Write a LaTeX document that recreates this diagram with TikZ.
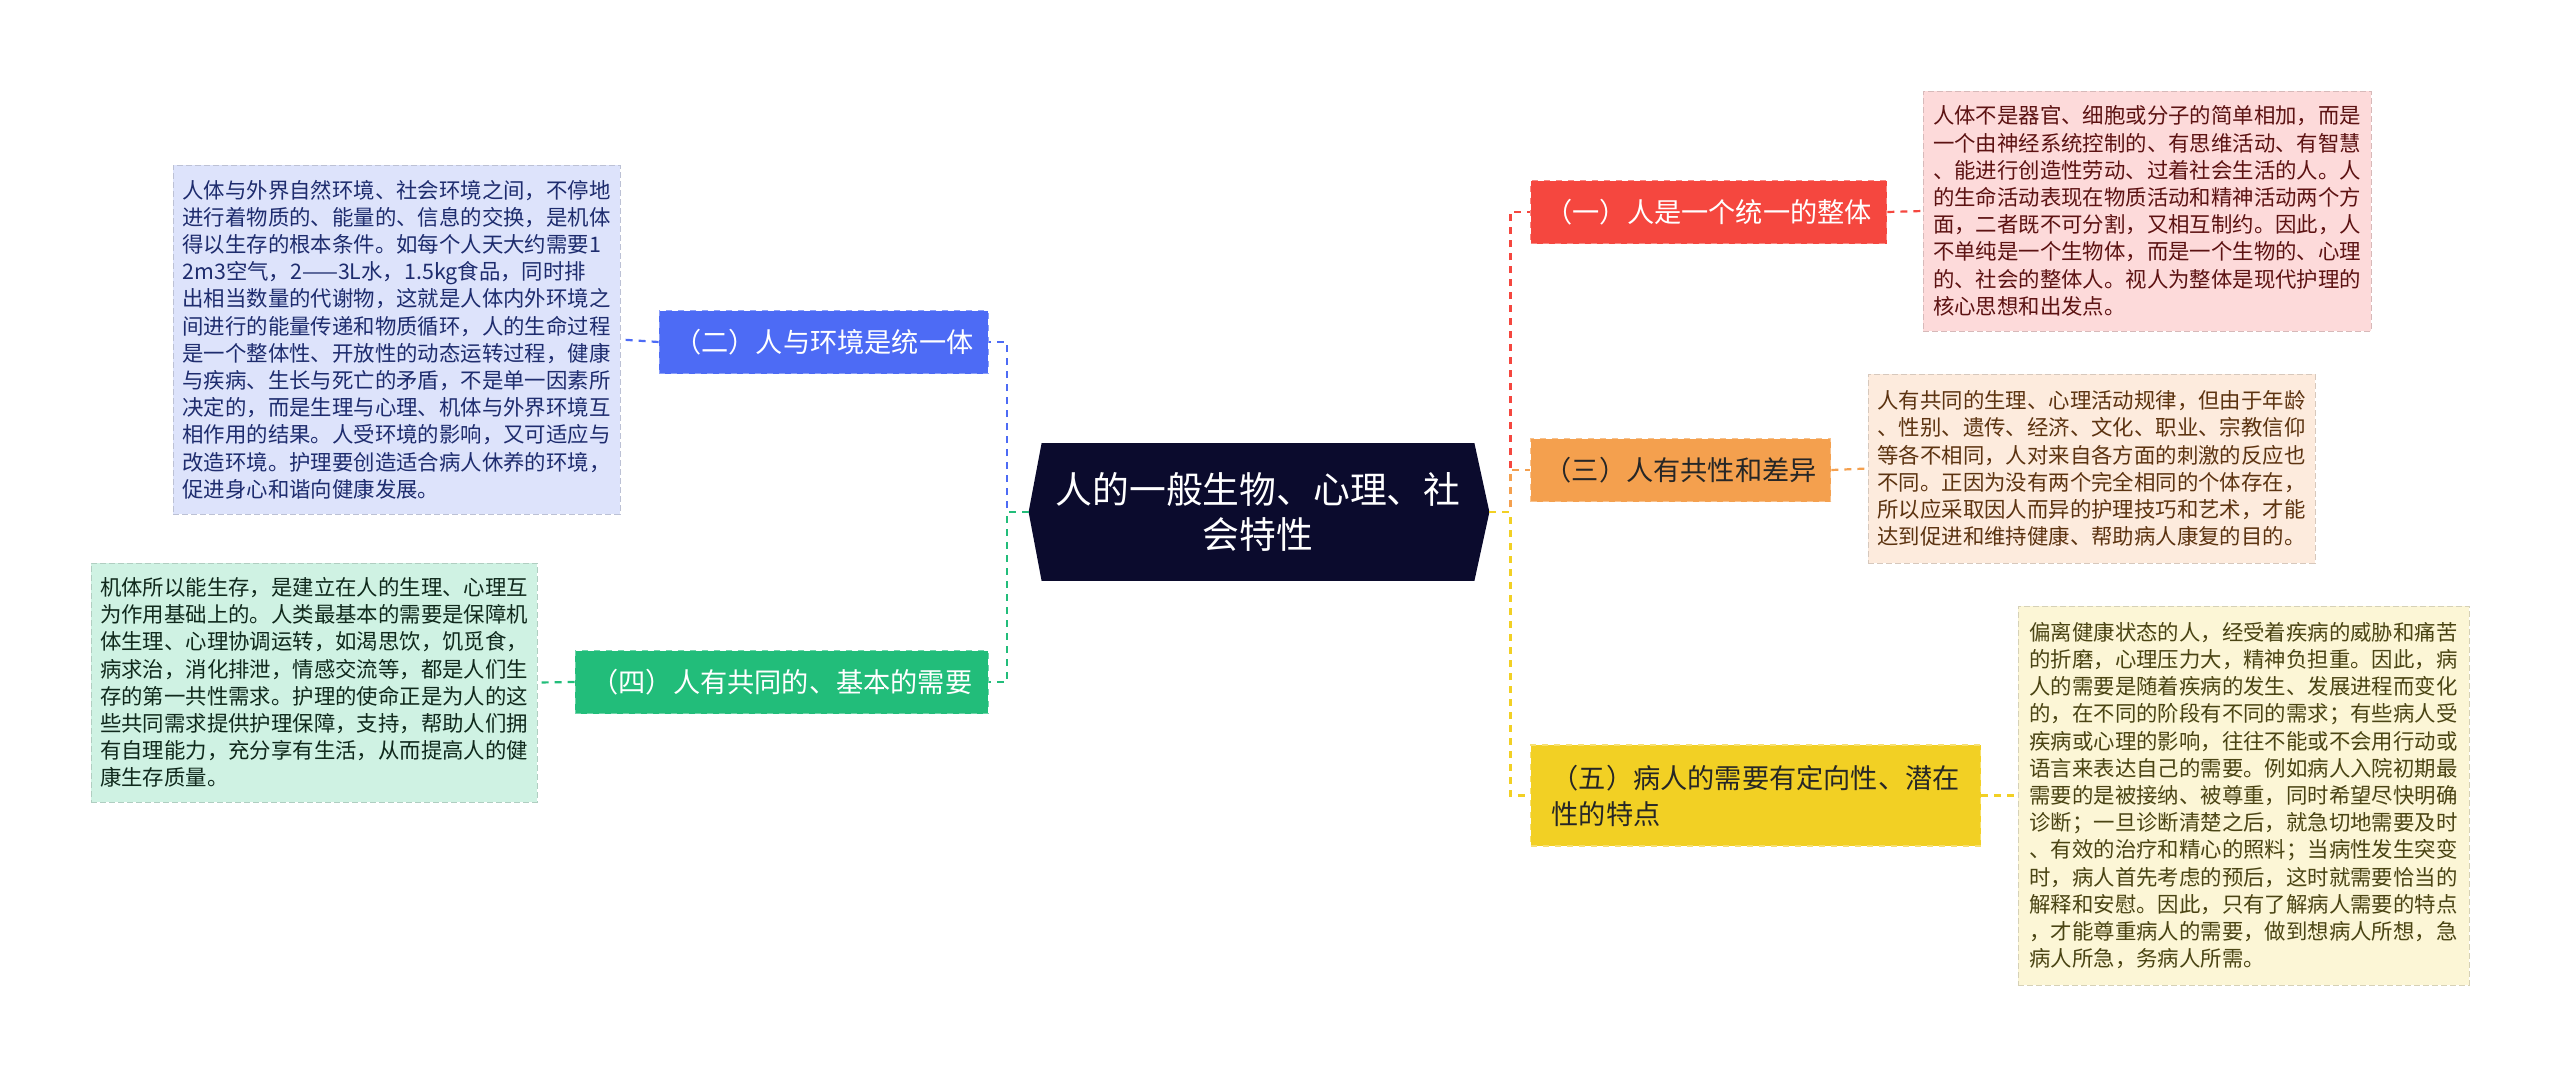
\documentclass[tikz,border=0pt]{standalone}
\usepackage{fontspec}
\setmainfont{Noto Sans CJK SC}

\definecolor{rootC}{HTML}{0B0B2D}
\definecolor{blueN}{HTML}{4D6BF5}
\definecolor{blueB}{HTML}{DDE3FB}
\definecolor{blueT}{HTML}{1E2C6E}
\definecolor{greenN}{HTML}{22BD7A}
\definecolor{greenB}{HTML}{CFF2E3}
\definecolor{greenT}{HTML}{10291C}
\definecolor{redN}{HTML}{F5473F}
\definecolor{redB}{HTML}{FDDADA}
\definecolor{redT}{HTML}{5C1212}
\definecolor{orangeN}{HTML}{F4A04E}
\definecolor{orangeB}{HTML}{FDEBDD}
\definecolor{orangeT}{HTML}{5C3310}
\definecolor{yellowN}{HTML}{F2D024}
\definecolor{yellowB}{HTML}{FCF6D6}
\definecolor{yellowT}{HTML}{4A4413}

\pgfdeclarelayer{back}
\pgfsetlayers{back,main}

\begin{document}
\begin{tikzpicture}[x=0.5pt, y=-0.5pt,
	topic/.style = { draw=white!35!#1, dashed, fill=#1, line width=0.7pt, minimum height=31.5pt, font=\fontsize{13.6}{18}\selectfont },
	note/.style = { draw=#1!85!black, dash pattern=on 3pt off 1.5pt, fill=#1, line width=0.5pt, align=left, inner xsep=3pt, font=\fontsize{10.7}{13.6}\selectfont },
	link/.style = { draw=#1, line width=1.1pt, dash pattern=on 3.5pt off 3pt }]

  \useasboundingbox (0,0) rectangle (2560,1076);

  \node[text=white, align=center, minimum width=216pt, minimum height=68.5pt, font=\fontsize{18.4}{22.9}\selectfont] (root) at (1258,512) {人的一般生物、心理、社\\会特性};
  \coordinate (rootW) at ([xshift=-6.5pt]root.west);
  \coordinate (rootE) at ([xshift=7.5pt]root.east);
  \begin{pgfonlayer}{back}
    \fill[rootC] (root.north west) -- (root.north east) -- (rootE) -- (root.south east) -- (root.south west) -- (rootW) -- cycle;
  \end{pgfonlayer}

  \node[topic=blueN, text=white, anchor=east, minimum width=164.5pt] (env) at (989,342) {（二）人与环境是统一体};
  \node[topic=greenN, text=white, anchor=east, minimum width=206.5pt] (need) at (989,682) {（四）人有共同的、基本的需要};
  \node[topic=redN, text=white, anchor=west, minimum width=178pt] (whole) at (1530,212) {（一）人是一个统一的整体};
  \node[topic=orangeN, text=black!85, anchor=west, minimum width=150pt] (diff) at (1530,470) {（三）人有共性和差异};
  \node[topic=yellowN, text=black!85, anchor=west, align=left, minimum width=225pt, minimum height=50.5pt] (patient) at (1530,795.5) {（五）病人的需要有定向性、潜在\\性的特点};

  \node[note=blueB, text=blueT, minimum width=223.5pt, minimum height=174.5pt] (envtext) at (396.5,339.5) {人体与外界自然环境、社会环境之间，不停地\\进行着物质的、能量的、信息的交换，是机体\\得以生存的根本条件。如每个人天大约需要1\\2m3空气，2——3L水，1.5kg食品，同时排\\出相当数量的代谢物，这就是人体内外环境之\\间进行的能量传递和物质循环，人的生命过程\\是一个整体性、开放性的动态运转过程，健康\\与疾病、生长与死亡的矛盾，不是单一因素所\\决定的，而是生理与心理、机体与外界环境互\\相作用的结果。人受环境的影响，又可适应与\\改造环境。护理要创造适合病人休养的环境，\\促进身心和谐向健康发展。};
  \node[note=greenB, text=greenT, minimum width=223pt, minimum height=119.5pt] (needtext) at (314,682.5) {机体所以能生存，是建立在人的生理、心理互\\为作用基础上的。人类最基本的需要是保障机\\体生理、心理协调运转，如渴思饮，饥觅食，\\病求治，消化排泄，情感交流等，都是人们生\\存的第一共性需求。护理的使命正是为人的这\\些共同需求提供护理保障，支持，帮助人们拥\\有自理能力，充分享有生活，从而提高人的健\\康生存质量。};
  \node[note=redB, text=redT, minimum width=224pt, minimum height=120pt] (wholetext) at (2147,211) {人体不是器官、细胞或分子的简单相加，而是\\一个由神经系统控制的、有思维活动、有智慧\\、能进行创造性劳动、过着社会生活的人。人\\的生命活动表现在物质活动和精神活动两个方\\面，二者既不可分割，又相互制约。因此，人\\不单纯是一个生物体，而是一个生物的、心理\\的、社会的整体人。视人为整体是现代护理的\\核心思想和出发点。};
  \node[note=orangeB, text=orangeT, minimum width=223.5pt, minimum height=94.5pt] (difftext) at (2091.5,468.5) {人有共同的生理、心理活动规律，但由于年龄\\、性别、遗传、经济、文化、职业、宗教信仰\\等各不相同，人对来自各方面的刺激的反应也\\不同。正因为没有两个完全相同的个体存在，\\所以应采取因人而异的护理技巧和艺术，才能\\达到促进和维持健康、帮助病人康复的目的。};
  \node[note=yellowB, text=yellowT, minimum width=225.5pt, minimum height=189.5pt] (patienttext) at (2243.5,795.5) {偏离健康状态的人，经受着疾病的威胁和痛苦\\的折磨，心理压力大，精神负担重。因此，病\\人的需要是随着疾病的发生、发展进程而变化\\的，在不同的阶段有不同的需求；有些病人受\\疾病或心理的影响，往往不能或不会用行动或\\语言来表达自己的需要。例如病人入院初期最\\需要的是被接纳、被尊重，同时希望尽快明确\\诊断；一旦诊断清楚之后，就急切地需要及时\\、有效的治疗和精心的照料；当病性发生突变\\时，病人首先考虑的预后，这时就需要恰当的\\解释和安慰。因此，只有了解病人需要的特点\\，才能尊重病人的需要，做到想病人所想，急\\病人所急，务病人所需。};

  \draw[link=blueN] (rootW) -- ++(-22,0) |- (env.east);
  \draw[link=greenN] (rootW) -- ++(-22,0) |- (need.east);
  \draw[link=redN] (rootE) -- ++(21,0) |- (whole.west);
  \draw[link=orangeN] (rootE) -- ++(21,0) |- (diff.west);
  \draw[link=yellowN] (rootE) -- ++(21,0) |- (patient.west);

  \draw[link=blueN] (env.west) -- (envtext.east);
  \draw[link=greenN] (need.west) -- (needtext.east);
  \draw[link=redN] (whole.east) -- (wholetext.west);
  \draw[link=orangeN] (diff.east) -- (difftext.west);
  \draw[link=yellowN] (patient.east) -- (patienttext.west);
\end{tikzpicture}
\end{document}
